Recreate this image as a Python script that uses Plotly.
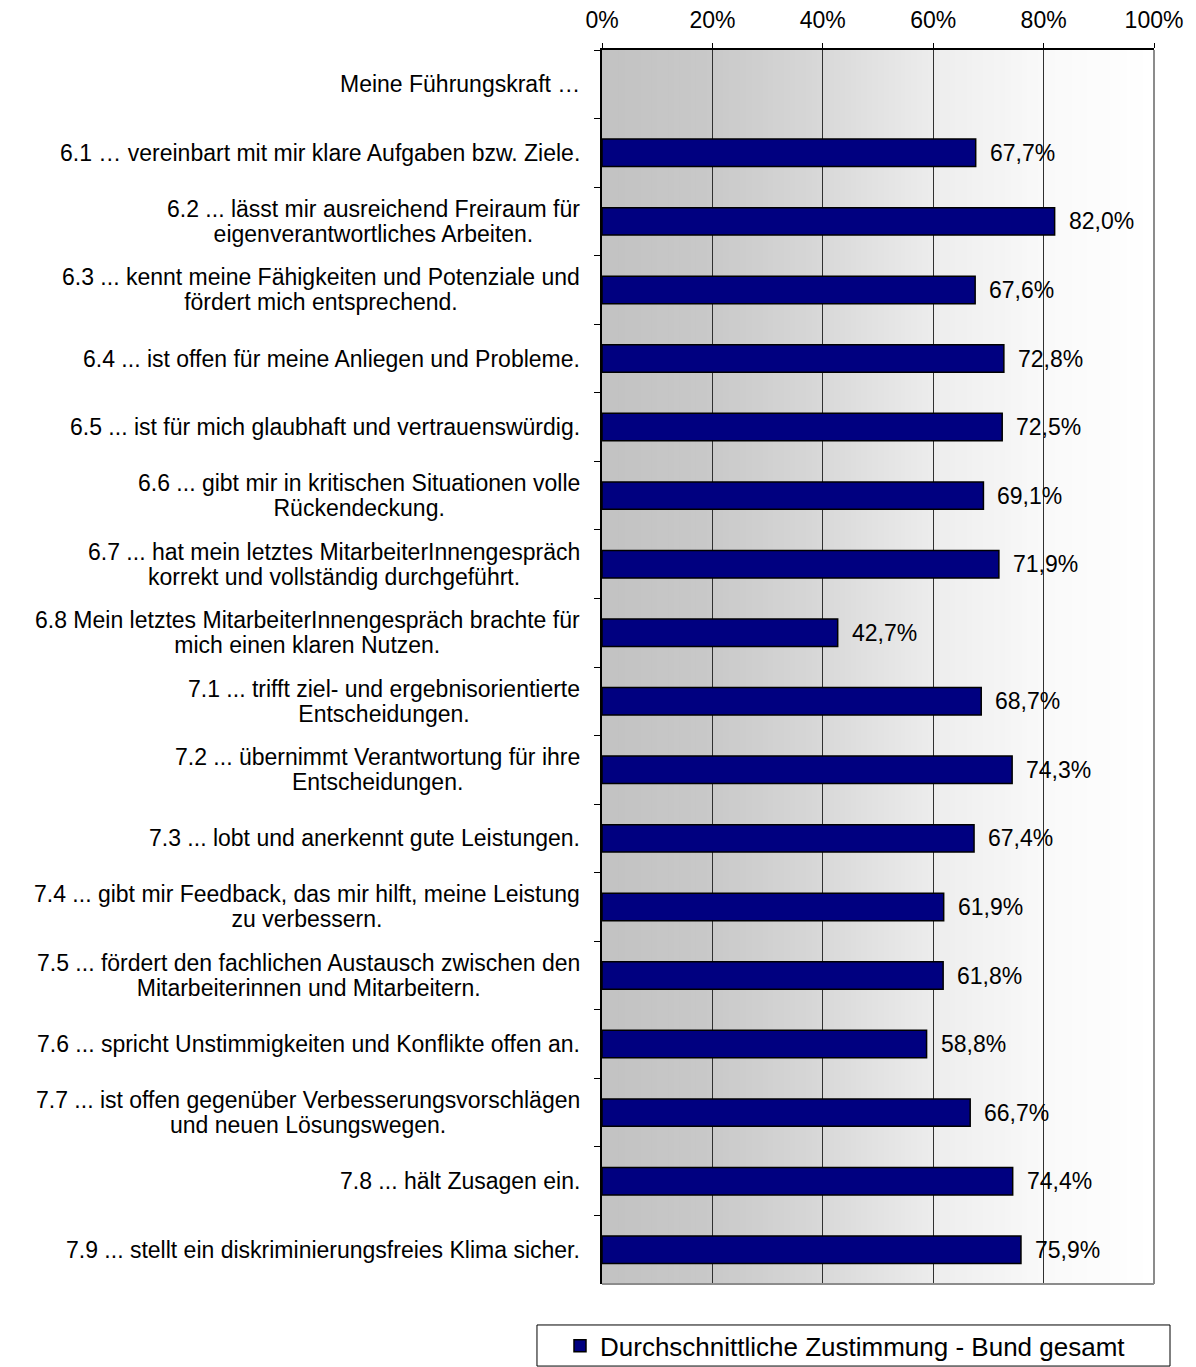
import numpy as np
import plotly.graph_objects as go

categories = [
    "Meine Führungskraft …",
    "6.1 … vereinbart mit mir klare Aufgaben bzw. Ziele.",
    "6.2 ... lässt mir ausreichend Freiraum für<br>eigenverantwortliches Arbeiten.",
    "6.3 ... kennt meine Fähigkeiten und Potenziale und<br>fördert mich entsprechend.",
    "6.4 ... ist offen für meine Anliegen und Probleme.",
    "6.5 ... ist für mich glaubhaft und vertrauenswürdig.",
    "6.6 ... gibt mir in kritischen Situationen volle<br>Rückendeckung.",
    "6.7 ... hat mein letztes MitarbeiterInnengespräch<br>korrekt und vollständig durchgeführt.",
    "6.8 Mein letztes MitarbeiterInnengespräch brachte für<br>mich einen klaren Nutzen.",
    "7.1 ... trifft ziel- und ergebnisorientierte<br>Entscheidungen.",
    "7.2 ... übernimmt Verantwortung für ihre<br>Entscheidungen.",
    "7.3 ... lobt und anerkennt gute Leistungen.",
    "7.4 ... gibt mir Feedback, das mir hilft, meine Leistung<br>zu verbessern.",
    "7.5 ... fördert den fachlichen Austausch zwischen den<br>Mitarbeiterinnen und Mitarbeitern.",
    "7.6 ... spricht Unstimmigkeiten und Konflikte offen an.",
    "7.7 ... ist offen gegenüber Verbesserungsvorschlägen<br>und neuen Lösungswegen.",
    "7.8 ... hält Zusagen ein.",
    "7.9 ... stellt ein diskriminierungsfreies Klima sicher.",
]
values = [None, 67.7, 82.0, 67.6, 72.8, 72.5, 69.1, 71.9, 42.7, 68.7, 74.3,
          67.4, 61.9, 61.8, 58.8, 66.7, 74.4, 75.9]
series_name = "Durchschnittliche Zustimmung - Bund gesamt"
x_ticks = [0, 20, 40, 60, 80, 100]
x_tick_labels = ["0%", "20%", "40%", "60%", "80%", "100%"]

FONT = "Liberation Sans, Arial, sans-serif"
TXT = 23

fig = go.Figure()
fig.add_trace(go.Bar(
    y=categories, x=values, orientation="h", name=series_name,
    marker=dict(color="#000080", line=dict(color="black", width=1.5)),
    width=0.4, hoverinfo="x+y",
))

# data labels
for c, v in zip(categories, values):
    if v is None:
        continue
    fig.add_annotation(x=v, y=c, xref="x", yref="y", xanchor="left",
                       xshift=12, showarrow=False,
                       text=f"{v:.1f}%".replace(".", ","),
                       font=dict(size=TXT, color="black", family=FONT))

# category labels (centered multi-line, tight line spacing)
for c in categories:
    lines = c.split("<br>")
    txt = "<br>".join(f"<span style='font-size:{TXT}px'>{ln}</span>" for ln in lines)
    fig.add_annotation(x=0, y=c, xref="paper", yref="y", xanchor="right",
                       yanchor="middle", xshift=-20, showarrow=False,
                       align="center", text=txt,
                       font=dict(size=19.2, color="black", family=FONT))

# gradient background (style only)
grad_pos = [0.0, 0.2, 0.4, 0.6, 0.8, 1.0]
grad_val = [194, 201, 216, 237, 249, 255]
n = 100
for i in range(n):
    t = (i + 0.5) / n
    g = int(round(np.interp(t, grad_pos, grad_val)))
    fig.add_shape(type="rect", xref="x", yref="paper", x0=i * 100 / n,
                  x1=(i + 1) * 100 / n + 0.2, y0=0, y1=1, layer="below",
                  line=dict(width=0), fillcolor=f"rgb({g},{g},{g})")

# grey right/bottom border
fig.add_shape(type="line", xref="paper", yref="paper", x0=1, x1=1, y0=0, y1=1,
              line=dict(color="#8c8c8c", width=2))
fig.add_shape(type="line", xref="paper", yref="paper", x0=0, x1=1, y0=0, y1=0,
              line=dict(color="#8c8c8c", width=2))

# legend box
fig.add_shape(type="rect", xref="paper", yref="paper", x0=-0.1178, x1=1.029,
              y0=-0.0665, y1=-0.0332, line=dict(color="black", width=1),
              fillcolor="white", layer="above")

fig.update_layout(
    width=1196, height=1367,
    margin=dict(l=602, r=42, t=50, b=83, autoexpand=False),
    paper_bgcolor="white", plot_bgcolor="white",
    font=dict(family=FONT, size=TXT, color="black"),
    showlegend=True,
    legend=dict(x=-0.0761, y=-0.0502, xanchor="left", yanchor="middle",
                orientation="h", bgcolor="rgba(0,0,0,0)",
                font=dict(size=26, family=FONT), itemwidth=30),
    xaxis=dict(range=[0, 100], side="top", tickvals=x_ticks,
               ticktext=x_tick_labels, ticks="outside", ticklen=5,
               tickcolor="black", showline=True, linecolor="black",
               linewidth=1.5, showgrid=True, gridcolor="#303030",
               gridwidth=1, zeroline=False, fixedrange=True,
               tickfont=dict(size=TXT), ticklabelstandoff=6),
    yaxis=dict(type="category", autorange="reversed", categoryorder="array",
               categoryarray=categories, showticklabels=False,
               ticks="outside", tickson="boundaries", ticklen=6,
               tickcolor="black", showline=True, linecolor="black",
               linewidth=1.5, showgrid=False, fixedrange=True),
)

fig.write_html("out.html")
